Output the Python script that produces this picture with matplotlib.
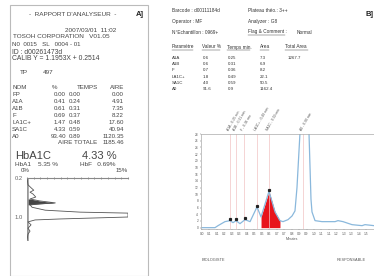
import matplotlib.pyplot as plt
from matplotlib.patches import Rectangle

W, H = 374, 276

# ---- left report (A) ----
left_names = ['FP', 'A1A', 'A1B', 'F', 'LA1C+', 'SA1C', 'A0']
left_pct = ['0.00', '0.41', '0.61', '0.69', '1.47', '4.33', '93.40']
left_time = ['0.00', '0.24', '0.31', '0.37', '0.48', '0.59', '0.89']
left_area = ['0.00', '4.91', '7.35', '8.22', '17.60', '40.94', '1120.35']
left_total = '1185.46'

# vertical chromatogram of the left report: time (min) vs signal (%)
left_t = [0.20, 0.34, 0.40, 0.45, 0.49, 0.53, 0.59, 0.63, 0.67, 0.71, 0.73,
          0.75, 0.80, 0.86, 0.90, 0.92, 1.00, 1.04, 1.06, 1.10, 1.16, 1.23,
          1.29, 1.35, 1.47]
left_sig = [0.0, 0.15, 0.6, 1.0, 0.45, 0.9, 1.3, 0.45, 1.9, 4.2, 1.9,
            0.45, 0.75, 2.7, 7.9, 15.0, 15.0, 4.9, 1.2, 0.15, 0.6, 0.15,
            0.45, 0.15, 0.0]

# ---- right report (B) ----
right_params = ['A1A', 'A1B', 'F', 'LA1C+', 'SA1C', 'A0']
right_val = ['0.6', '0.6', '0.7', '1.8', '4.0', '91.6']
right_time = ['0.25', '0.31', '0.36', '0.49', '0.59', '0.9']
right_area = ['7.3', '6.9', '8.2', '22.1', '50.5', '1162.4']
right_total = '1267.7'

trace_min = [0.0, 0.116, 0.143, 0.205, 0.25, 0.277, 0.304, 0.339, 0.384,
             0.429, 0.491, 0.527, 0.563, 0.598, 0.652, 0.696, 0.723, 0.768,
             0.804, 0.830, 0.848, 0.875, 0.900, 0.955, 0.973, 0.982, 1.009,
             1.071, 1.188, 1.214, 1.259, 1.339, 1.429, 1.455, 1.536, 1.60]
trace_abs = [0.0, 0.0, 0.6, 1.8, 2.1, 1.5, 2.1, 1.2, 2.4,
             1.8, 6.2, 3.2, 7.1, 10.9, 4.7, 2.1, 1.8, 2.4,
             3.5, 5.0, 12.0, 28.5, 60.0, 28.5, 8.5, 4.7, 2.1,
             1.8, 1.8, 2.1, 1.8, 0.9, 0.6, 0.9, 0.6, 0.6]
peak_min = [0.25, 0.304, 0.38, 0.491, 0.598]
peak_abs = [2.5, 2.5, 2.9, 6.6, 11.3]
peak_labels = ['A1A - 0.25 min', 'A1B - 0.31 min', 'F - 0.36 min',
               'LA1C+ - 0.49 min', 'SA1C - 0.59 min', 'A0 - 0.90 min']
mark_min = [0.25, 0.304, 0.375, 0.491, 0.598, 0.90]
fill_range = (0.527, 0.70)

fig = plt.figure(figsize=(W / 100, H / 100), dpi=100)
plt.rcParams['font.family'] = ['Liberation Sans', 'DejaVu Sans']


def txt(x, y, s, size=5.0, **kw):
    kw.setdefault('color', '#444444')
    kw.setdefault('va', 'center')
    return fig.text(x / W, 1 - y / H, s, fontsize=size, **kw)


def underline(x, y, n, color):
    fig.add_artist(plt.Line2D([x / W, (x + n * 2.3) / W],
                              [1 - y / H, 1 - y / H], color=color, lw=0.3))


# left panel frame
fig.patches.append(Rectangle((10 / W, 0), 138 / W, 1 - 5 / H, transform=fig.transFigure,
                             fill=False, edgecolor='#bbbbbb', lw=0.8))

txt(73, 15, "-  RAPPORT D'ANALYSEUR  -", 4.6, ha='center')
txt(136, 14, 'A]', 5.5, weight='bold', color='#222222')
txt(116, 30, '2007/03/01  11:02', 4.6, ha='right')
txt(13, 37, 'TOSOH CORPORATION   V01.05', 4.6)
txt(12, 44, 'N0  0015   SL   0004 - 01', 4.4)
txt(12, 52, 'ID : d00261473d', 4.9)
txt(12, 58, 'CALIB Y = 1.1953X + 0.2514', 4.9)
txt(20, 72, 'TP', 4.6)
txt(43, 72, '497', 4.6)
txt(12, 87, 'NOM', 4.4)
txt(52, 87, '%', 4.4)
txt(77, 87, 'TEMPS', 4.4)
txt(124, 87, 'AIRE', 4.4, ha='right')
for i, name in enumerate(left_names):
    y = 94 + 7 * i
    txt(12, y, name, 4.4)
    txt(66, y, left_pct[i], 4.4, ha='right')
    txt(81, y, left_time[i], 4.4, ha='right')
    txt(124, y, left_area[i], 4.4, ha='right')
txt(58, 143, 'AIRE TOTALE', 4.4)
txt(124, 143, left_total, 4.4, ha='right')
txt(15, 156, 'HbA1C', 8.0)
txt(82, 156, '4.33 %', 8.0)
txt(15, 164, 'HbA1    5.35 %', 4.6)
txt(80, 164, 'HbF   0.69%', 4.6)
txt(25, 170, '0%', 4.4, ha='center')
txt(128, 170, '15%', 4.4, ha='right')

y0, y1 = 178, 241.4
axl = fig.add_axes([27 / W, 1 - y1 / H, 101 / W, (y1 - y0) / H])
axl.set_xlim(0, 15)
axl.set_ylim(1.5, 0.2)
axl.axvline(0, color='#999999', lw=2.6, ymax=0.98)
axl.plot(left_sig, left_t, color='#555555', lw=0.6)
axl.fill_betweenx(left_t, 0, left_sig,
                  where=[0.62 <= t <= 0.76 for t in left_t], color='#444444', lw=0)
for s in ['right', 'bottom', 'left']:
    axl.spines[s].set_visible(False)
axl.spines['top'].set_color('#888888')
axl.spines['top'].set_linewidth(0.8)
axl.xaxis.tick_top()
axl.set_xticks(range(16))
axl.set_xticklabels([])
axl.tick_params(axis='x', length=1.5, width=0.6, color='#888888', direction='inout')
axl.set_yticks([0.2, 1.0])
axl.set_yticklabels(['0.2', '1.0'])
axl.tick_params(axis='y', length=0, labelsize=4.2, labelcolor='#666666', pad=3)
axl.patch.set_alpha(0)

# right panel texts
rc = '#333333'
txt(172, 10, 'Barcode : d00111184d', 3.4, color=rc)
txt(248, 10, 'Plateau théo.: 3++', 3.4, color=rc)
txt(366, 15, 'B]', 5.5, weight='bold', color='#222222')
txt(172, 21, 'Operator : MF', 3.4, color=rc)
txt(248, 21, 'Analyzer : G8', 3.4, color=rc)
txt(172, 32, 'N°Echantillon : 0969+', 3.4, color=rc)
txt(248, 32, 'Flag & Comment :', 3.4, color=rc)
underline(248, 34.5, 16, rc)
txt(297, 32, 'Normal', 3.4, color=rc)
heads = [(172, 'Paramètre'), (202, 'Valeur %'), (227, 'Temps min.'),
         (260, 'Area'), (285, 'Total Area')]
for x, h in heads:
    txt(x, 47, h, 3.4, color=rc)
    underline(x, 49.5, len(h), rc)
for i, p in enumerate(right_params):
    y = 58 + 6.2 * i
    txt(172, y, p, 3.2, color=rc)
    txt(203, y, right_val[i], 3.2, color=rc)
    txt(228, y, right_time[i], 3.2, color=rc)
    txt(260, y, right_area[i], 3.2, color=rc)
txt(288, 58, right_total, 3.2, color=rc)

# right chromatogram
axr = fig.add_axes([201 / W, 1 - 229 / H, (382 - 201) / W, (229 - 134) / H])
axr.set_xlim(-0.009, 1.607)
axr.set_ylim(-0.4, 28)
for m in mark_min:
    axr.axvline(m, color='#f2c4c4', lw=0.5)
axr.fill_between(trace_min, 0, trace_abs,
                 where=[fill_range[0] <= m <= fill_range[1] for m in trace_min],
                 color='#e8141c', lw=0)
axr.plot(trace_min, trace_abs, color='#8ab8dc', lw=0.9)
axr.plot(peak_min, peak_abs, 's', color='#222222', ms=1.3)
axr.set_xticks([i / 15 for i in range(23)])
axr.set_xticklabels(['%.1f' % (i / 15) for i in range(23)])
axr.set_yticks(range(0, 29, 2))
axr.set_yticklabels([str(v) for v in range(0, 29, 2)])
axr.tick_params(labelsize=2.3, length=1, width=0.3, pad=1, colors='#555555')
for s in axr.spines.values():
    s.set_color('#aaaaaa')
    s.set_linewidth(0.5)
axr.set_xlabel('Minutes', fontsize=2.5, labelpad=1, color='#555555')
for m, lab in zip(mark_min, peak_labels):
    axr.annotate(lab, (m, 28), xytext=(0, 1.5), textcoords='offset points',
                 rotation=60, fontsize=2.4, color='#555555', ha='left', va='bottom',
                 rotation_mode='anchor', annotation_clip=False)

txt(202, 260, 'BIOLOGISTE', 2.8, color='#555555')
txt(337, 260, 'RESPONSABLE', 2.8, color='#555555')

fig.savefig('out.png', dpi=100)
